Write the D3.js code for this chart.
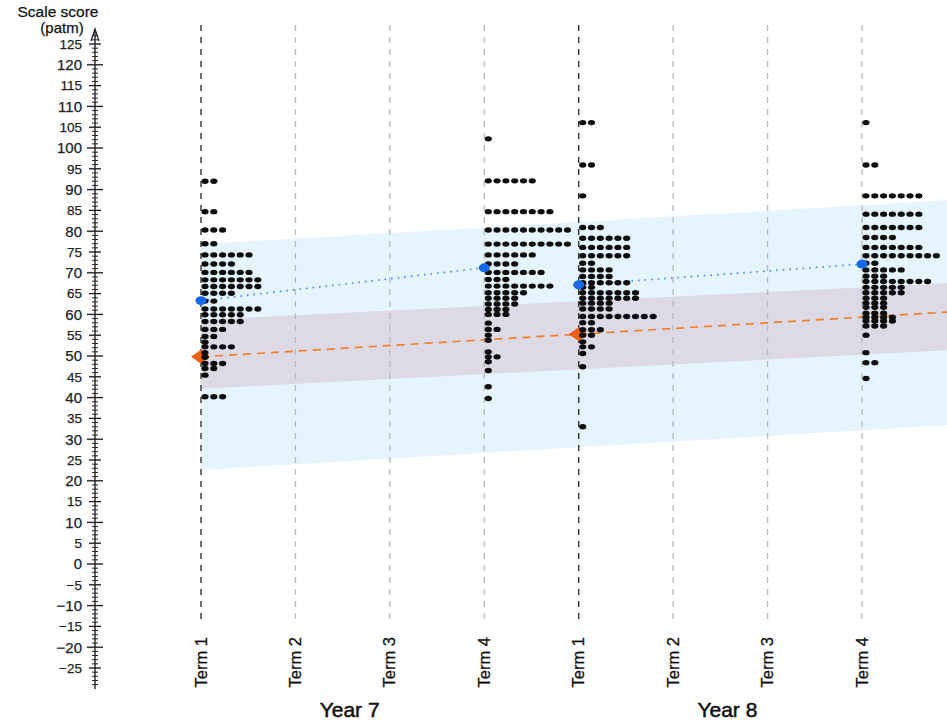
<!DOCTYPE html>
<html>
<head>
<meta charset="utf-8">
<script src="https://cdn.jsdelivr.net/npm/d3@7"></script>
<style>
  body { margin: 0; background: #fff; }
  svg { display: block; font-family: "Liberation Sans", Arial, sans-serif; }
</style>
</head>
<body>
<svg id="chart" width="947" height="722"></svg>
<script>
// ---- data ----
const termLabels = ['Term 1', 'Term 2', 'Term 3', 'Term 4', 'Term 1', 'Term 2', 'Term 3', 'Term 4'];
const yearLabels = ['Year 7', 'Year 8'];

// [score, number of students] per term
const dotsY7T1 = [[92, 2], [84.7, 2], [80.3, 3], [77, 2], [74.3, 6], [72.1, 4], [70.1, 6], [68.3, 7],
  [66.7, 7], [65.1, 4], [63.2, 2], [61.3, 7], [59.9, 5], [58.3, 5], [56.4, 3], [54.7, 2], [53.3, 1],
  [52.2, 4], [50.8, 1], [49.7, 1], [48.2, 3], [47, 2], [45.4, 1], [40.2, 3]];
const dotsY7T4 = [[102.2, 1], [92.1, 6], [84.7, 8], [80.3, 10], [76.9, 10], [74.3, 6], [72.1, 4], [70.1, 7],
  [68.4, 3], [66.8, 8], [65.2, 5], [63.9, 4], [62.5, 4], [61.2, 3], [60, 3], [57.9, 1], [56.4, 2],
  [55, 1], [53.8, 1], [51, 1], [49.8, 2], [48.6, 1], [46.5, 1], [42.6, 1], [39.8, 1]];
const dotsY8T1 = [[106.1, 2], [95.9, 2], [88.5, 1], [80.9, 3], [78.3, 6], [76.1, 6], [74.1, 6], [72.3, 2],
  [70.7, 4], [69.1, 4], [67.6, 6], [66.5, 2], [65.2, 7], [63.9, 7], [62.7, 4], [61.3, 4], [59.5, 9],
  [58, 2], [56.3, 3], [55, 2], [53.4, 1], [52.2, 2], [50.6, 1], [47.4, 1], [33, 1]];
const dotsY8T4 = [[106.1, 1], [95.9, 2], [88.5, 7], [84.1, 7], [80.9, 7], [78.5, 4], [76.1, 7], [74.1, 9],
  [72.3, 2], [70.7, 5], [69.2, 3], [67.9, 8], [66.5, 5], [65.2, 5], [63.9, 3], [62.7, 3], [61.7, 3],
  [60.3, 3], [59.3, 4], [58.4, 4], [57.2, 3], [55, 1], [50.8, 1], [48.4, 2], [44.6, 1]];
const dotTerms = [0, 3, 4, 7];
const dotSets = [dotsY7T1, dotsY7T4, dotsY8T1, dotsY8T4];

// group mean (blue) per term, joined within each year
const meanTerms = [0, 3, 4, 7];
const meanScores = [63.3, 71.2, 67.1, 72.1];

// expected growth (orange)
const expectedTerms = [0, 4];
const expectedScores = [49.8, 55.2];
const expectedLine = [[0, 49.8], [8, 60.7]];

// bands: [term, low, high]
const outerBand = [[0, 22.6, 76.9], [8, 33.5, 87.6]];
const innerBand = [[0, 42.1, 58.7], [8, 51.5, 67.6]];

const yTicks = d3.range(-25, 126, 5);

// ---- layout ----
const svg = d3.select('#chart');

const x = d3.scaleLinear().domain([0, 7]).range([201, 862]);
const y = d3.scaleLinear().domain([-25, 125]).range([668, 44]);
const axisX = 95;

// bands
const area = d3.area()
  .x(d => x(d[0]))
  .y0(d => y(d[1]))
  .y1(d => y(d[2]));

svg.append('path').datum(outerBand).attr('d', area).attr('fill', '#e6f5fd');
svg.append('path').datum(innerBand).attr('d', area).attr('fill', '#ddd9e5');

// vertical term lines
svg.append('g')
  .selectAll('line')
  .data(termLabels)
  .join('line')
  .attr('x1', (d, i) => x(i)).attr('x2', (d, i) => x(i))
  .attr('y1', 25).attr('y2', 622)
  .attr('stroke', (d, i) => i % 4 === 0 ? '#333' : '#bbb')
  .attr('stroke-width', 1.4)
  .attr('stroke-dasharray', '6,6');

// term labels
svg.append('g')
  .selectAll('text')
  .data(termLabels)
  .join('text')
  .attr('transform', (d, i) => `translate(${x(i) + 5.5},637) rotate(-90)`)
  .attr('text-anchor', 'end')
  .attr('font-size', 16.5)
  .attr('fill', '#111')
  .attr('stroke', '#111').attr('stroke-width', 0.3)
  .text(d => d);

// year labels
svg.append('g')
  .selectAll('text')
  .data(yearLabels)
  .join('text')
  .attr('x', (d, i) => x(i * 4 + 1.5) + 7)
  .attr('y', 717)
  .attr('text-anchor', 'middle')
  .attr('font-size', 21)
  .attr('fill', '#111')
  .attr('stroke', '#111').attr('stroke-width', 0.5)
  .text(d => d);

// mean lines (dotted blue), one per year
const line = d3.line().x(d => x(d[0])).y(d => y(d[1]));
[[0, 1], [2, 3]].forEach(pair => {
  svg.append('path')
    .datum(pair.map(k => [meanTerms[k], meanScores[k]]))
    .attr('d', line)
    .attr('fill', 'none')
    .attr('stroke', '#3d85f0')
    .attr('stroke-width', 1.6)
    .attr('stroke-dasharray', '1.6,5');
});

// expected line (dashed orange)
svg.append('path')
  .datum(expectedLine)
  .attr('d', line)
  .attr('fill', 'none')
  .attr('stroke', '#f0802a')
  .attr('stroke-width', 1.7)
  .attr('stroke-dasharray', '8,6');

// expected diamonds
svg.append('g')
  .selectAll('path')
  .data(expectedTerms.map((t, i) => [t, expectedScores[i]]))
  .join('path')
  .attr('d', d => {
    const cx = x(d[0]), cy = y(d[1]);
    return `M${cx - 10},${cy} L${cx},${cy - 7} L${cx + 9},${cy} L${cx},${cy + 7} Z`;
  })
  .attr('fill', '#eb6114');

// dot histograms
const dotGap = 8.8;
const dotData = [];
dotSets.forEach((rows, k) => {
  rows.forEach(([score, n]) => {
    for (let j = 0; j < n; j++) dotData.push({ t: dotTerms[k], score, j });
  });
});
svg.append('g')
  .selectAll('ellipse')
  .data(dotData)
  .join('ellipse')
  .attr('cx', d => x(d.t) + 4 + d.j * dotGap)
  .attr('cy', d => y(d.score))
  .attr('rx', 3.6)
  .attr('ry', 2.7)
  .attr('fill', '#0d0d0d');

// mean points
svg.append('g')
  .selectAll('ellipse')
  .data(meanTerms.map((t, i) => [t, meanScores[i]]))
  .join('ellipse')
  .attr('cx', d => x(d[0]))
  .attr('cy', d => y(d[1]))
  .attr('rx', 5.5)
  .attr('ry', 4.5)
  .attr('fill', '#1768e8');

// ---- y axis ----
const axis = svg.append('g');
axis.append('line')
  .attr('x1', axisX).attr('x2', axisX)
  .attr('y1', 29).attr('y2', 689)
  .attr('stroke', '#222').attr('stroke-width', 1.4);
axis.append('path')
  .attr('d', `M${axisX - 4},${41} L${axisX},${29} L${axisX + 4},${41}`)
  .attr('fill', 'none').attr('stroke', '#222').attr('stroke-width', 1.3);

axis.selectAll('line.minor')
  .data(d3.range(-29, 128))
  .join('line')
  .attr('class', 'minor')
  .attr('x1', d => axisX - (d % 10 === 0 ? 8 : d % 5 === 0 ? 6 : 3))
  .attr('x2', d => axisX + (d % 10 === 0 ? 8 : d % 5 === 0 ? 6 : 3))
  .attr('y1', d => y(d)).attr('y2', d => y(d))
  .attr('stroke', '#222')
  .attr('stroke-width', d => d % 5 === 0 ? 1.4 : 1);

const yAxis = d3.axisLeft(y)
  .tickValues(yTicks)
  .tickSize(0)
  .tickPadding(13)
  .tickFormat(d3.format('d'));
const labels = svg.append('g').attr('transform', `translate(${axisX},0)`).call(yAxis);
labels.select('.domain').remove();
labels.selectAll('text')
  .attr('font-family', '"Liberation Sans", Arial, sans-serif')
  .attr('font-size', d => d % 10 === 0 ? 15 : 13.5)
  .attr('fill', '#222')
  .attr('stroke', '#222').attr('stroke-width', 0.25);

svg.append('text').attr('x', 58).attr('y', 17).attr('text-anchor', 'middle')
  .attr('font-size', 15.5).attr('fill', '#111')
  .attr('stroke', '#111').attr('stroke-width', 0.25).text('Scale score');
svg.append('text').attr('x', 62).attr('y', 33).attr('text-anchor', 'middle')
  .attr('font-size', 15).attr('fill', '#111')
  .attr('stroke', '#111').attr('stroke-width', 0.25).text('(patm)');
</script>
</body>
</html>
